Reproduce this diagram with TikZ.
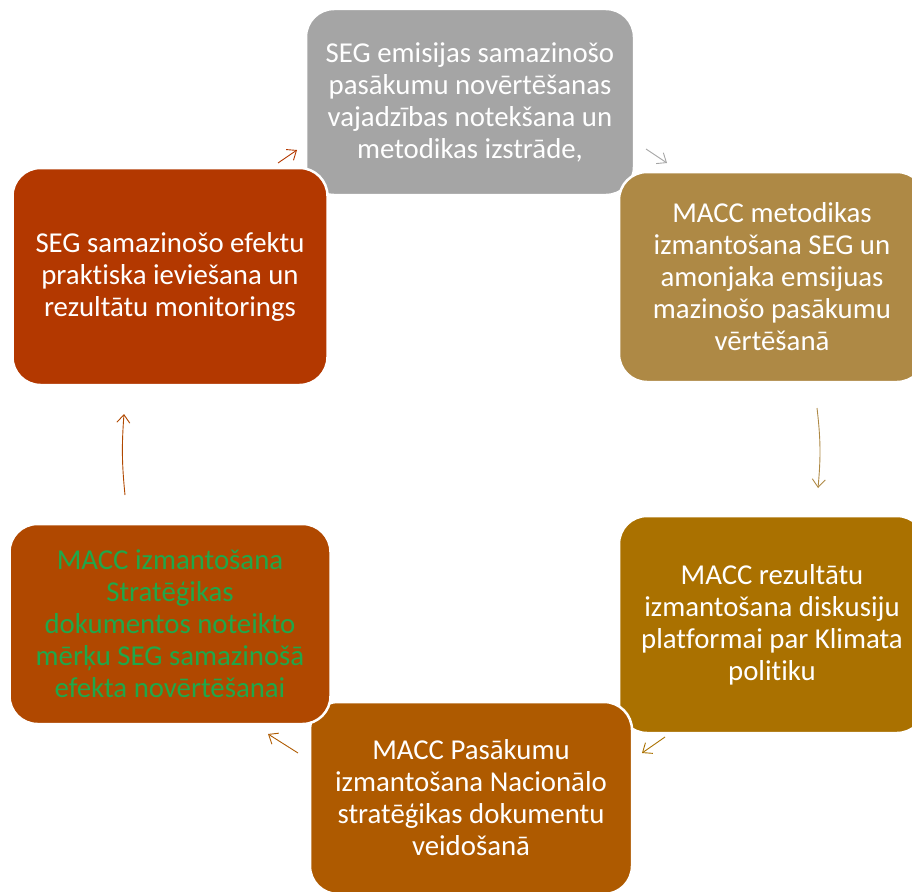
\documentclass[tikz,border=0pt]{standalone}
\usepackage{fontspec}
\setmainfont{Carlito}[Ligatures=NoCommon]
\usetikzlibrary{positioning,arrows.meta}
\definecolor{greybox}{HTML}{A5A5A5}
\definecolor{tanbox}{HTML}{AE8945}
\definecolor{goldbox}{HTML}{AA7100}
\definecolor{ochrebox}{HTML}{AE5A00}
\definecolor{rustbox}{HTML}{B04800}
\definecolor{redbox}{HTML}{B33800}
\definecolor{greentext}{HTML}{1FA84A}

\begin{document}
\begin{tikzpicture}[x=1pt,y=-1pt]
\tikzstyle{cbox}=[draw=white,line width=2.5pt,rounded corners=28pt,text=white,align=center,inner sep=0pt,font=\fontsize{28.8}{32}\selectfont]
\tikzstyle{carrow}=[line width=0.9pt,-{Straight Barb[length=8pt,width=13pt]}]

\useasboundingbox (0,0) rectangle (912,891);
\clip (0,0) rectangle (912,891);

\node[cbox,fill=greybox,minimum width=328pt,minimum height=186pt] (metod) at (470,102)
  {SEG emisijas samazinošo\\pasākumu novērtēšanas\\vajadzības notekšana un\\metodikas izstrāde,};
\node[cbox,fill=tanbox,minimum width=306pt,minimum height=210pt] (vertesana) at (772,277)
  {MACC metodikas\\izmantošana SEG un\\amonjaka emsijuas\\mazinošo pasākumu\\vērtēšanā};
\node[cbox,fill=goldbox,minimum width=306pt,minimum height=217pt] (platforma) at (772,624.5)
  {MACC rezultātu\\izmantošana diskusiju\\platformai par Klimata\\politiku};
\node[cbox,fill=ochrebox,minimum width=322pt,minimum height=192pt] (nacionalo) at (471,798)
  {MACC Pasākumu\\izmantošana Nacionālo\\stratēģikas dokumentu\\veidošanā};
\node[cbox,fill=rustbox,text=greentext,minimum width=321pt,minimum height=200pt] (merki) at (170,624)
  {MACC izmantošana\\Stratēģikas\\dokumentos noteikto\\mērķu SEG samazinošā\\efekta novērtēšanai};
\node[cbox,fill=redbox,minimum width=315pt,minimum height=217pt] (monitorings) at (170,276.5)
  {SEG samazinošo efektu\\praktiska ieviešana un\\rezultātu monitorings};

\coordinate (a1) at (278,163);
\coordinate (b1) at (297,150);
\coordinate (a2) at (646,149);
\coordinate (b2) at (667,163);
\coordinate (a3) at (817,408);
\coordinate (b3) at (818,488);
\coordinate (a4) at (665,737);
\coordinate (b4) at (642,753);
\coordinate (a5) at (298,753);
\coordinate (b5) at (268,734);
\coordinate (a6) at (125,495);
\coordinate (b6) at (124,414);

\draw[carrow,redbox] (a1) -- (b1);
\draw[carrow,greybox] (a2) -- (b2);
\draw[carrow,tanbox] (a3) to[bend left=6] (b3);
\draw[carrow,goldbox] (a4) -- (b4);
\draw[carrow,ochrebox] (a5) -- (b5);
\draw[carrow,rustbox] (a6) to[bend left=5] (b6);
\end{tikzpicture}
\end{document}
